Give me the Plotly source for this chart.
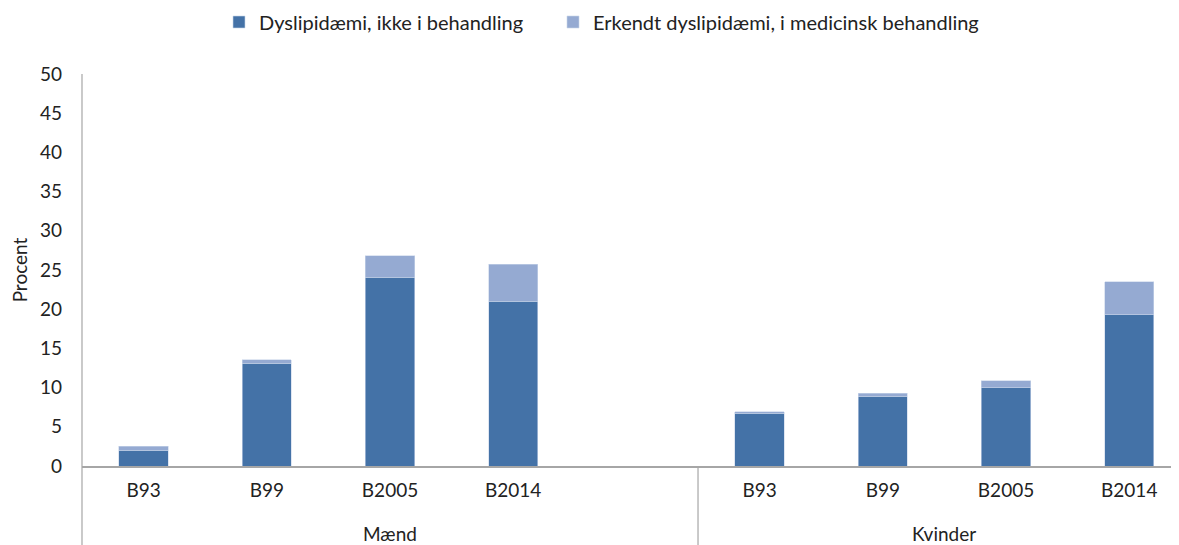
import plotly.graph_objects as go

groups = ["Mænd", "Kvinder"]
categories_maend = ["B93", "B99", "B2005", "B2014", ""]
categories_kvinder = ["B93", "B99", "B2005", "B2014"]
ikke_behandling = [2.0, 13.1, 24.1, 21.0, None, 6.7, 8.9, 9.95, 19.3]
medicinsk_behandling = [0.55, 0.45, 2.7, 4.75, None, 0.2, 0.35, 0.9, 4.2]
series_names = ["Dyslipidæmi, ikke i behandling", "Erkendt dyslipidæmi, i medicinsk behandling"]
y_ticks = list(range(0, 55, 5))

labels = categories_maend + categories_kvinder
xpos = list(range(len(labels)))

FONT = "Lato"
FS = 19
dark = "#4472A7"
light = "#95AAD2"
axis_col = "#A6A6A6"

# page body has an 8px margin, so the figure is drawn 8px smaller
W, HT = 1171, 537
fig = go.Figure()
fig.add_trace(go.Bar(x=xpos, y=ikke_behandling, name=series_names[0], legend="legend",
                     marker=dict(color=dark, line=dict(color="#C9D6EA", width=0.6)), width=0.4))
fig.add_trace(go.Bar(x=xpos, y=medicinsk_behandling, name=series_names[1], legend="legend2",
                     marker=dict(color=light, line=dict(color="#C9D6EA", width=0.6)), width=0.4))

H = 466 - 74
bottom = -(545 - 466) / H
leg_common = dict(orientation="h", xref="container", yref="container", y=1 - 14 / HT,
                  xanchor="left", yanchor="middle", font=dict(size=20), itemwidth=30,
                  bgcolor="rgba(0,0,0,0)")
fig.update_layout(
    barmode="stack",
    width=W, height=HT,
    margin=dict(l=74, r=0, t=66, b=79, autoexpand=False),
    plot_bgcolor="white", paper_bgcolor="white",
    font=dict(family=FONT, size=FS, color="#222222"),
    showlegend=True,
    legend=dict(x=211 / W, **leg_common),
    legend2=dict(x=545 / W, **leg_common),
)
# the chart's last slot is cut by the right edge of the image
fig.update_xaxes(range=[-0.5, 8.404], tickmode="array", tickvals=xpos, ticktext=labels,
                 showgrid=False, showline=True, linecolor=axis_col, linewidth=1.5, ticks="",
                 ticklabelstandoff=6, tickfont=dict(size=FS), zeroline=False, automargin=False)
fig.update_yaxes(range=[0, 50], tickmode="array", tickvals=y_ticks, showgrid=False, showline=False,
                 zeroline=False, ticks="", tickfont=dict(size=FS), ticklabelstandoff=19,
                 title=dict(text="Procent", font=dict(size=FS), standoff=12), automargin=False)

# vertical axis line extended through category area
fig.add_shape(type="line", xref="paper", yref="paper", x0=0, x1=0, y0=bottom, y1=1,
              line=dict(color=axis_col, width=1.2))
fig.add_shape(type="line", xref="x", yref="paper", x0=4.5, x1=4.5, y0=bottom, y1=0,
              line=dict(color=axis_col, width=1.2))

group_ypos = -(533 - 466) / H
fig.add_annotation(x=(0 + len(categories_maend) - 1) / 2, y=group_ypos, xref="x", yref="paper",
                   yanchor="middle", text=groups[0], showarrow=False, font=dict(size=FS))
k0 = len(categories_maend)
fig.add_annotation(x=(k0 + k0 + len(categories_kvinder) - 1) / 2, y=group_ypos, xref="x", yref="paper",
                   yanchor="middle", text=groups[1], showarrow=False, font=dict(size=FS))

fig.write_html("out.html")
